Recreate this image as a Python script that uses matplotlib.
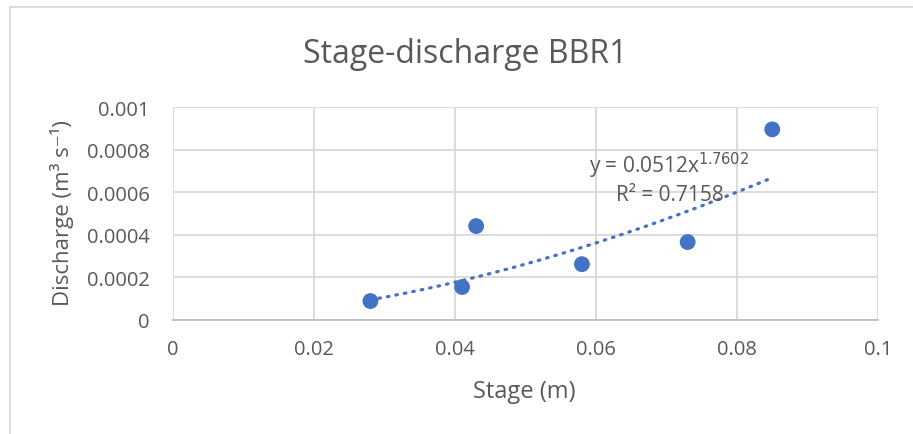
import matplotlib
matplotlib.use("Agg")
import matplotlib.pyplot as plt
import numpy as np
from matplotlib.lines import Line2D

plt.rcParams['font.family'] = ['Open Sans', 'DejaVu Sans']

stage = [0.028, 0.041, 0.043, 0.058, 0.073, 0.085]
discharge = [0.000089, 0.000155, 0.000441, 0.000262, 0.000366, 0.000895]
coef_a = 0.0512
coef_b = 1.7602
r2 = 0.7158
x_ticks = [0, 0.02, 0.04, 0.06, 0.08, 0.1]
x_labels = ["0", "0.02", "0.04", "0.06", "0.08", "0.1"]
y_ticks = [0, 0.0002, 0.0004, 0.0006, 0.0008, 0.001]
y_labels = ["0", "0.0002", "0.0004", "0.0006", "0.0008", "0.001"]

W, H = 913, 435
fig = plt.figure(figsize=(W/100, H/100), dpi=100)
ax = fig.add_axes([173/W, (H-321)/H, 705/W, 213/H])

grid_c = '#d9d9d9'
text_c = '#595959'
blue = '#4472C4'

ax.set_xlim(0, 0.1)
ax.set_ylim(0, 0.001)
ax.set_xticks(x_ticks)
ax.set_xticklabels(x_labels)
ax.set_yticks(y_ticks)
ax.set_yticklabels(y_labels)
ax.grid(True, color=grid_c, linewidth=1.3)
ax.set_axisbelow(True)
for s in ['top', 'right', 'left']:
    ax.spines[s].set_visible(False)
ax.spines['bottom'].set_color('#bfbfbf')
ax.spines['bottom'].set_linewidth(1.3)
ax.tick_params(length=0, labelsize=14.5, colors=text_c)
ax.tick_params(axis='y', pad=17)
ax.tick_params(axis='x', pad=14)

xs = np.linspace(min(stage), max(stage), 200)
ax.plot(xs, coef_a * xs ** coef_b, linestyle=(0, (0.5, 2.2)), color=blue,
        linewidth=2.3, dash_capstyle='round', zorder=2)
ax.scatter(stage, discharge, s=130, color=blue, zorder=3, edgecolors='none')

ax.text(0.07043, 0.000695, f"y = {coef_a}x$^{{{coef_b}}}$", ha='center', va='baseline',
        fontsize=15, color=text_c)
ax.text(0.07043, 0.000563, f"R² = {r2}", ha='center', va='baseline',
        fontsize=15, color=text_c)

fig.text(465/W, 1 - 63/H, "Stage-discharge BBR1", ha='center', va='baseline',
         fontsize=23, color=text_c)
fig.text(524/W, 1 - 398/H, "Stage (m)", ha='center', va='baseline',
         fontsize=17, color=text_c)
fig.text(62/W, 1 - 213/H, "Discharge (m³ s⁻¹)", ha='center', va='center',
         rotation=90, fontsize=16, color=text_c)

fig.add_artist(Line2D([9.5/W, 9.5/W], [0, 1 - 8/H], color='#d9d9d9', linewidth=1.3))
fig.add_artist(Line2D([9.5/W, 1], [1 - 8/H, 1 - 8/H], color='#d9d9d9', linewidth=1.3))

fig.savefig("out.png", dpi=100)
